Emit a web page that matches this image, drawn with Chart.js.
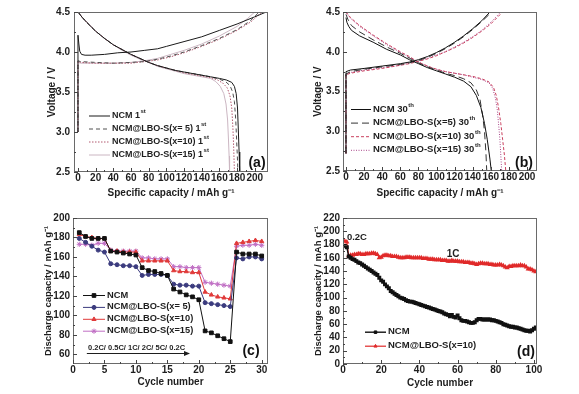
<!DOCTYPE html>
<html>
<head>
<meta charset="utf-8">
<script src="https://cdn.jsdelivr.net/npm/chart.js@4.4.1/dist/chart.umd.min.js"></script>
<style>
    html, body { margin: 0; padding: 0; background: #fff; }
    .panel { position: absolute; }
</style>
</head>
<body>
<canvas id="chart-a" class="panel" width="289" height="200" style="left:0;top:0;width:289px;height:200px"></canvas>
<canvas id="chart-b" class="panel" width="290" height="200" style="left:289px;top:0;width:290px;height:200px"></canvas>
<canvas id="chart-c" class="panel" width="289" height="197" style="left:0;top:197px;width:289px;height:197px"></canvas>
<canvas id="chart-d" class="panel" width="290" height="197" style="left:289px;top:197px;width:290px;height:197px"></canvas>
<script>
const FONT = '"Liberation Sans", Arial, Helvetica, sans-serif';

// ---- (a) first cycle, [capacity mAh/g, voltage V]
const aNcmCharge = [[0,3.0],[0,4.21],[1,4.1],[2,4.01],[4,3.97],[8,3.96],[15,3.96],[30,3.97],[45,3.99],[60,4.0],[75,4.02],[90,4.04],[100,4.07],[120,4.13],[140,4.19],[160,4.27],[180,4.35],[200,4.44],[213,4.5]];
const aX5Charge = [[0,3.0],[0,3.89],[3,3.88],[20,3.87],[40,3.86],[60,3.87],[75,3.88],[90,3.91],[105,3.95],[120,4.0],[140,4.08],[160,4.17],[180,4.28],[195,4.39],[205,4.5]];
const aX10Charge = [[0,3.0],[0,3.88],[3,3.87],[20,3.86],[40,3.86],[60,3.86],[75,3.88],[90,3.9],[105,3.94],[120,3.99],[140,4.07],[160,4.16],[180,4.27],[196,4.38],[208,4.5]];
const aX15Charge = [[0,3.0],[0,3.87],[3,3.86],[20,3.86],[40,3.86],[60,3.87],[75,3.89],[90,3.92],[105,3.97],[120,4.02],[140,4.1],[160,4.2],[180,4.32],[192,4.42],[200,4.5]];
const aNcmDischarge = [[0,4.5],[5,4.43],[10,4.37],[20,4.26],[30,4.17],[40,4.09],[50,4.03],[60,3.97],[70,3.92],[80,3.87],[90,3.83],[100,3.8],[110,3.77],[120,3.75],[130,3.73],[140,3.71],[150,3.69],[160,3.67],[168,3.65],[174,3.62],[177,3.57],[179,3.48],[180.5,3.3],[181.5,3.0],[182.3,2.75],[183,2.5]];
const aX5Discharge = [[0,4.5],[5,4.43],[10,4.37],[20,4.26],[30,4.17],[40,4.09],[50,4.03],[60,3.97],[70,3.92],[80,3.87],[90,3.83],[100,3.8],[110,3.77],[120,3.75],[130,3.73],[140,3.71],[150,3.69],[160,3.66],[167,3.63],[172,3.58],[175,3.5],[177,3.38],[178.5,3.15],[179.5,2.9],[180.3,2.7],[181,2.5]];
const aX10Discharge = [[0,4.5],[5,4.43],[10,4.37],[20,4.26],[30,4.17],[40,4.09],[50,4.03],[60,3.97],[70,3.92],[80,3.87],[90,3.83],[100,3.8],[110,3.77],[120,3.74],[130,3.72],[140,3.7],[150,3.68],[158,3.65],[164,3.61],[169,3.55],[172,3.45],[174,3.3],[175.3,3.05],[176.2,2.8],[177,2.5]];
const aX15Discharge = [[0,4.5],[5,4.43],[10,4.37],[20,4.26],[30,4.17],[40,4.09],[50,4.02],[60,3.96],[70,3.91],[80,3.87],[90,3.82],[100,3.79],[110,3.76],[120,3.73],[130,3.71],[140,3.69],[150,3.67],[156,3.63],[161,3.57],[165,3.48],[167.5,3.35],[169.3,3.15],[170.3,2.9],[171,2.7],[171.5,2.5]];

// ---- (b) 30th cycle
const bNcmCharge = [[0,2.72],[0,3.75],[5,3.77],[20,3.79],[40,3.82],[60,3.85],[70,3.87],[80,3.9],[90,3.94],[100,3.99],[110,4.05],[120,4.12],[130,4.2],[140,4.29],[150,4.39],[159,4.5]];
const bX5Charge = [[0,2.72],[0,3.72],[5,3.75],[20,3.78],[40,3.81],[60,3.84],[70,3.86],[80,3.89],[90,3.93],[100,3.98],[110,4.04],[120,4.11],[130,4.19],[140,4.28],[150,4.38],[161,4.5]];
const bX10Charge = [[0,2.72],[0,3.71],[5,3.73],[20,3.76],[40,3.79],[60,3.83],[70,3.85],[80,3.88],[90,3.91],[100,3.95],[110,4.0],[120,4.05],[130,4.11],[140,4.18],[150,4.26],[160,4.35],[173,4.5]];
const bX15Charge = [[0,2.72],[0,3.72],[5,3.74],[20,3.77],[40,3.8],[60,3.83],[70,3.86],[80,3.88],[90,3.92],[100,3.96],[110,4.0],[120,4.06],[130,4.12],[140,4.19],[150,4.27],[160,4.37],[171,4.5]];
const bNcmDischarge = [[0,4.43],[1,4.37],[3,4.32],[6,4.27],[15,4.2],[30,4.12],[45,4.03],[60,3.96],[70,3.9],[80,3.85],[90,3.8],[100,3.76],[110,3.72],[120,3.68],[130,3.63],[138,3.56],[144,3.45],[149,3.3],[153,3.1],[156,2.9],[159,2.65],[160.5,2.5]];
const bX5Discharge = [[0,4.47],[2,4.41],[6,4.33],[15,4.25],[30,4.15],[45,4.06],[60,3.98],[70,3.92],[80,3.86],[90,3.81],[100,3.77],[110,3.73],[120,3.7],[130,3.66],[138,3.61],[144,3.52],[148,3.4],[151,3.2],[153,3.0],[154.5,2.75],[155.5,2.5]];
const bX10Discharge = [[0,4.5],[5,4.43],[15,4.33],[30,4.21],[45,4.1],[60,4.0],[70,3.94],[80,3.87],[90,3.82],[100,3.78],[110,3.75],[120,3.73],[130,3.71],[140,3.69],[150,3.66],[158,3.62],[163,3.55],[166,3.45],[168.5,3.3],[171,3.1],[173,2.9],[175,2.7],[176.5,2.5]];
const bX15Discharge = [[0,4.49],[5,4.42],[15,4.32],[30,4.2],[45,4.09],[60,3.99],[70,3.93],[80,3.87],[90,3.82],[100,3.78],[110,3.75],[120,3.73],[130,3.71],[140,3.68],[150,3.65],[158,3.61],[162,3.54],[165,3.42],[167,3.28],[168.5,3.1],[170,2.9],[171,2.7],[172,2.5]];

// ---- (c) rate capability
const rateCycles = [1,2,3,4,5,6,7,8,9,10,11,12,13,14,15,16,17,18,19,20,21,22,23,24,25,26,27,28,29,30];
const rateNcm = [185,181,179,179,179,166,165,164,163,162,149,146,145,143,141,127,124,121,119,116,84,82,79,76,73,165,163,163,163,161];
const rateX5 = [179,175,171,167,165,153,152,151,151,150,141,142,142,142,141,132,131,131,130,130,113,112,111,110,109,159,158,160,160,158];
const rateX10 = [183,181,180,179,179,166,166,165,165,165,156,156,156,156,156,146,145,145,144,144,124,121,119,118,117,174,175,176,177,176];
const rateX15 = [173,173,172,174,174,167,166,166,166,166,159,159,158,158,158,150,150,149,149,149,134,133,132,131,130,171,172,172,173,172];

// ---- (d) cycling at 1C
const lifeCycles = [1,2,3,4,5,6,7,8,9,10,11,12,13,14,15,16,17,18,19,20,21,22,23,24,25,26,27,28,29,30,31,32,33,34,35,36,37,38,39,40,41,42,43,44,45,46,47,48,49,50,51,52,53,54,55,56,57,58,59,60,61,62,63,64,65,66,67,68,69,70,71,72,73,74,75,76,77,78,79,80,81,82,83,84,85,86,87,88,89,90,91,92,93,94,95,96,97,98,99,100,101];
const lifeNcm = [178,176,162,160,158,157,155,153,152,150,148,146,144,142,140,138,136,134,130,126,124,120,117,114,110,108,106,104,102,100,99,98,96,95,94,94,93,92,91,90,89,88,87,86,85,84,83,82,81,80,79,78,76,75,74,72,74,71,70,73,69,66,65,65,64,63,62,62,63,66,68,68,67,67,67,67,67,66,66,65,64,63,62,60,59,58,57,56,56,55,55,54,53,52,51,50,50,49,51,53,55];
const lifeX10 = [185,184,163,164,164,165,165,166,166,165,165,166,166,166,167,167,166,165,160,161,163,164,164,163,163,162,162,162,161,160,160,160,161,161,161,160,160,160,160,160,160,159,159,159,158,158,158,157,157,157,157,156,156,156,155,155,156,155,155,155,154,154,154,153,153,153,152,152,151,150,151,152,152,151,151,151,150,150,149,149,149,150,149,148,146,145,147,147,148,148,148,148,149,148,148,146,143,143,142,140,139];

const aTicksX = [0,20,40,60,80,100,120,140,160,180,200];
const aTicksY = [2.5,3.0,3.5,4.0,4.5];
const cTicksX = [0,5,10,15,20,25,30];
const cTicksY = [60,80,100,120,140,160,180,200];
const dTicksX = [0,20,40,60,80,100];
const dTicksY = [0,20,40,60,80,100,120,140,160,180,200,220];

Chart.defaults.font.family = FONT;
Chart.defaults.font.weight = "bold";
Chart.defaults.color = "#1e1e1e";
Chart.defaults.animation = false;

function toPoints(pairs) {
    return pairs.map((p) => ({ x: p[0], y: p[1] }));
}

function toSeries(xs, ys) {
    return xs.map((x, i) => ({ x: x, y: ys[i] }));
}

function axisX(min, max, ticks, title, height, titlePad) {
    return {
        type: "linear", min: min, max: max,
        afterBuildTicks: (s) => { s.ticks = ticks.map((v) => ({ value: v })); },
        afterFit: (s) => { s.height = height; },
        grid: { display: false, drawTicks: false },
        border: { display: false },
        ticks: { autoSkip: false, maxRotation: 0, padding: 0, font: { size: 10 } },
        title: { display: true, text: title, font: { size: 10 }, padding: { top: 0, bottom: titlePad } }
    };
}

function axisY(min, max, ticks, title, width, titlePad, tickPad, decimals, titleSize) {
    return {
        type: "linear", min: min, max: max,
        afterBuildTicks: (s) => { s.ticks = ticks.map((v) => ({ value: v })); },
        afterFit: (s) => { s.width = width; },
        grid: { display: false, drawTicks: false },
        border: { display: false },
        ticks: {
            autoSkip: false, padding: tickPad, font: { size: 10 },
            callback: (v) => decimals ? Number(v).toFixed(decimals) : String(v)
        },
        title: { display: true, text: title, font: { size: titleSize || 10 }, padding: { top: titlePad, bottom: 0 } }
    };
}

function line(data, color, dash, extra) {
    return Object.assign({
        data: data,
        showLine: true,
        borderColor: color,
        backgroundColor: color,
        borderWidth: 1,
        borderDash: dash,
        pointRadius: 0,
        tension: 0
    }, extra || {});
}

const framePlugin = {
    id: "frame",
    afterDatasetsDraw(chart, args, opts) {
        const ctx = chart.ctx;
        const a = chart.chartArea;
        const sx = chart.scales.x;
        const sy = chart.scales.y;
        ctx.save();
        ctx.setLineDash([]);
        ctx.lineWidth = 1;
        ctx.strokeStyle = "#6a6a6a";
        ctx.strokeRect(a.left + 0.5, a.top + 0.5, a.right - a.left - 1, a.bottom - a.top - 1);
        ctx.strokeStyle = "#444";
        const xs = sx.ticks.map((t) => t.value);
        const ys = sy.ticks.map((t) => t.value);
        const tickX = (v, len) => {
            const p = Math.round(sx.getPixelForValue(v)) + 0.5;
            ctx.beginPath(); ctx.moveTo(p, a.bottom); ctx.lineTo(p, a.bottom - len); ctx.stroke();
        };
        const tickY = (v, len) => {
            const p = Math.round(sy.getPixelForValue(v)) + 0.5;
            ctx.beginPath(); ctx.moveTo(a.left, p); ctx.lineTo(a.left + len, p); ctx.stroke();
        };
        xs.forEach((v, i) => {
            tickX(v, 4);
            if (i < xs.length - 1) tickX((v + xs[i + 1]) / 2, 2);
        });
        ys.forEach((v, i) => {
            tickY(v, 4);
            if (i < ys.length - 1) tickY((v + ys[i + 1]) / 2, 2);
        });
        ctx.fillStyle = "#111";
        ctx.font = "bold 14px " + FONT;
        ctx.textAlign = "center";
        ctx.textBaseline = "middle";
        ctx.fillText(opts.label, a.right - opts.lx, a.bottom - opts.ly);
        ctx.restore();
    }
};

const legendPlugin = {
    id: "insideLegend",
    afterDatasetsDraw(chart, args, opts) {
        const ctx = chart.ctx;
        const a = chart.chartArea;
        ctx.save();
        chart.data.datasets.filter((d) => d.legend).forEach((d, i) => {
            const y = a.top + opts.y + i * opts.dy;
            const x0 = a.left + opts.x;
            const x1 = x0 + opts.len;
            ctx.strokeStyle = d.borderColor;
            ctx.lineWidth = d.borderWidth;
            ctx.setLineDash(d.borderDash || []);
            ctx.beginPath(); ctx.moveTo(x0, y + 0.5); ctx.lineTo(x1, y + 0.5); ctx.stroke();
            ctx.setLineDash([]);
            if (d.pointRadius) {
                ctx.fillStyle = d.borderColor;
                ctx.lineWidth = 1;
                Chart.helpers.drawPoint(ctx, { pointStyle: d.pointStyle, radius: d.pointRadius, rotation: 0, borderWidth: 1 }, (x0 + x1) / 2, y + 0.5);
            }
            ctx.fillStyle = "#1e1e1e";
            ctx.font = "bold " + opts.size + "px " + FONT;
            ctx.textAlign = "left";
            ctx.textBaseline = "middle";
            ctx.fillText(d.legend, x1 + 2, y);
            if (d.sup) {
                const w = ctx.measureText(d.legend).width;
                ctx.font = "bold 6px " + FONT;
                ctx.fillText(d.sup, x1 + 2.5 + w, y - 4);
            }
        });
        ctx.restore();
    }
};

const notesPlugin = {
    id: "notes",
    afterDatasetsDraw(chart, args, opts) {
        const ctx = chart.ctx;
        const sx = chart.scales.x;
        const sy = chart.scales.y;
        ctx.save();
        ctx.fillStyle = "#1e1e1e";
        ctx.textAlign = "center";
        ctx.textBaseline = "middle";
        (opts.texts || []).forEach((t) => {
            ctx.font = "bold " + t.size + "px " + FONT;
            ctx.fillText(t.text, sx.getPixelForValue(t.x), sy.getPixelForValue(t.y));
        });
        if (opts.arrow) {
            const x1 = sx.getPixelForValue(opts.arrow.x1);
            const x2 = sx.getPixelForValue(opts.arrow.x2);
            const y = Math.round(sy.getPixelForValue(opts.arrow.y)) + 0.5;
            ctx.strokeStyle = "#1e1e1e";
            ctx.lineWidth = 1;
            ctx.beginPath(); ctx.moveTo(x1, y); ctx.lineTo(x2 - 4, y); ctx.stroke();
            ctx.beginPath(); ctx.moveTo(x2, y); ctx.lineTo(x2 - 6, y - 2.5); ctx.lineTo(x2 - 6, y + 2.5); ctx.closePath(); ctx.fill();
        }
        ctx.restore();
    }
};

const basePlugins = {
    legend: { display: false },
    tooltip: { enabled: false }
};

function makeChart(id, datasets, scales, padding, plugins) {
    return new Chart(document.getElementById(id).getContext("2d"), {
        type: "scatter",
        data: { datasets: datasets },
        options: {
            responsive: false,
            layout: { padding: padding, autoPadding: false },
            scales: scales,
            plugins: Object.assign({}, basePlugins, plugins)
        },
        plugins: [framePlugin, legendPlugin, notesPlugin]
    });
}

function initChartA() {
    makeChart("chart-a", [
        line(toPoints(aX15Charge), "#cbb6c2", [], { legend: "NCM@LBO-S(x=15) 1", sup: "st" }),
        line(toPoints(aX15Discharge), "#cbb6c2", []),
        line(toPoints(aX10Charge), "#b25a70", [1.5, 1.5], { legend: "NCM@LBO-S(x=10) 1", sup: "st" }),
        line(toPoints(aX10Discharge), "#b25a70", [1.5, 1.5]),
        line(toPoints(aX5Charge), "#505050", [4, 3], { legend: "NCM@LBO-S(x= 5) 1", sup: "st" }),
        line(toPoints(aX5Discharge), "#505050", [4, 3]),
        line(toPoints(aNcmCharge), "#1a1a1a", [], { legend: "NCM 1", sup: "st" }),
        line(toPoints(aNcmDischarge), "#1a1a1a", [])
    ].reverse(), {
        x: axisX(-4.5, 215, aTicksX, "Specific capacity / mAh g⁻¹", 28, 1),
        y: axisY(2.5, 4.5, aTicksY, "Voltage / V", 74, 46, 4, 1)
    }, { left: 0, top: 12, right: 21, bottom: 0 }, {
        frame: { label: "(a)", lx: 11, ly: 9 },
        insideLegend: { x: 15, y: 103.5, dy: 13, len: 21, size: 9 }
    });
}

function initChartB() {
    makeChart("chart-b", [
        line(toPoints(bX15Charge), "#a9478a", [1, 1.5], { legend: "NCM@LBO-S(x=15) 30", sup: "th" }),
        line(toPoints(bX15Discharge), "#a9478a", [1, 1.5]),
        line(toPoints(bX10Charge), "#c9405e", [3, 2], { legend: "NCM@LBO-S(x=10) 30", sup: "th" }),
        line(toPoints(bX10Discharge), "#c9405e", [3, 2]),
        line(toPoints(bX5Charge), "#333333", [7, 4], { legend: "NCM@LBO-S(x=5) 30", sup: "th" }),
        line(toPoints(bX5Discharge), "#333333", [7, 4]),
        line(toPoints(bNcmCharge), "#111111", [], { legend: "NCM 30", sup: "th" }),
        line(toPoints(bNcmDischarge), "#111111", [])
    ].reverse(), {
        x: axisX(-3.3, 211, aTicksX, "Specific capacity / mAh g⁻¹", 29, 1),
        y: axisY(2.5, 4.5, aTicksY, "Voltage / V", 54, 23, 3, 1)
    }, { left: 0, top: 12, right: 42, bottom: 0 }, {
        frame: { label: "(b)", lx: 13, ly: 8 },
        insideLegend: { x: 8, y: 97, dy: 13.6, len: 20, size: 9.5 }
    });
}

function initChartC() {
    const marks = (style, r) => ({ pointRadius: r, pointStyle: style, pointBorderWidth: 1 });
    makeChart("chart-c", [
        line(toSeries(rateCycles, rateNcm), "#111111", [], Object.assign({ legend: "NCM" }, marks("rect", 2.6))),
        line(toSeries(rateCycles, rateX5), "#3b3b7e", [], Object.assign({ legend: "NCM@LBO-S(x= 5)" }, marks("circle", 2))),
        line(toSeries(rateCycles, rateX10), "#e03a3a", [], Object.assign({ legend: "NCM@LBO-S(x=10)" }, marks("triangle", 2.4))),
        line(toSeries(rateCycles, rateX15), "#c06fc4", [], Object.assign({ legend: "NCM@LBO-S(x=15)" }, marks("star", 2.6)))
    ], {
        x: axisX(0, 31, cTicksX, "Cycle number", 30, 6),
        y: axisY(50, 200, cTicksY, "Discharge capacity / mAh g⁻¹", 73, 43, 3, 0, 9.5)
    }, { left: 0, top: 21, right: 21, bottom: 0 }, {
        frame: { label: "(c)", lx: 17, ly: 13 },
        insideLegend: { x: 10, y: 77, dy: 11.9, len: 22, size: 9.3 },
        notes: {
            texts: [{ text: "0.2C/ 0.5C/ 1C/ 2C/ 5C/ 0.2C", x: 10.1, y: 66.5, size: 7.5 }],
            arrow: { x1: 2.2, x2: 18.6, y: 61 }
        }
    });
}

function initChartD() {
    makeChart("chart-d", [
        line(toSeries(lifeCycles, lifeNcm), "#111111", [], { legend: "NCM", borderWidth: 1.4, pointRadius: 1.8, pointStyle: "rect" }),
        line(toSeries(lifeCycles, lifeX10), "#e02a2a", [], { legend: "NCM@LBO-S(x=10)", borderWidth: 1.2, pointRadius: 1.8, pointStyle: "triangle" })
    ], {
        x: axisX(0, 101.6, dTicksX, "Cycle number", 30, 4.7),
        y: axisY(0, 220, dTicksY, "Discharge capacity / mAh g⁻¹", 54, 23.5, 3, 0, 9.5)
    }, { left: 0, top: 21, right: 42, bottom: 0 }, {
        frame: { label: "(d)", lx: 11, ly: 11.5 },
        insideLegend: { x: 22, y: 113.7, dy: 14, len: 21, size: 9.5 },
        notes: {
            texts: [
                { text: "0.2C", x: 7.3, y: 191.5, size: 9.5 },
                { text: "1C", x: 57.7, y: 166, size: 10 }
            ]
        }
    });
}

initChartA();
initChartB();
initChartC();
initChartD();
</script>
</body>
</html>
